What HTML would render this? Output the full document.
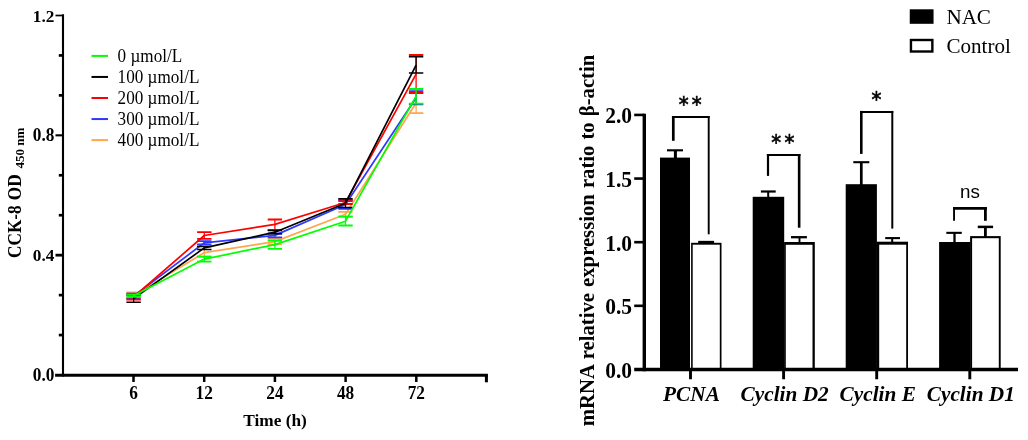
<!DOCTYPE html>
<html lang="en">
<head>
<meta charset="utf-8">
<title>CCK-8 and mRNA expression</title>
<style>
html,body{margin:0;padding:0;background:#fff;}
body{width:1028px;height:440px;overflow:hidden;}
svg{display:block;}
</style>
</head>
<body>
<svg width="1028" height="440" viewBox="0 0 1028 440">
<rect width="1028" height="440" fill="#fff"/>
<g stroke="#000" stroke-width="2.1" fill="none" stroke-linecap="butt">
<path d="M63.0 14.2 V376.5"/>
<path d="M55.1 375.3 H487.9" stroke-width="3"/>
<path d="M55.5 255.17 H63.0" stroke-width="2.8"/>
<path d="M55.5 135.33 H63.0" stroke-width="2.1"/>
<path d="M55.5 15.50 H63.0" stroke-width="1.7"/>
<path d="M58.8 335.06 H63.0" stroke-width="2.7"/>
<path d="M58.8 295.11 H63.0" stroke-width="2.7"/>
<path d="M58.8 215.22 H63.0" stroke-width="2.7"/>
<path d="M58.8 175.28 H63.0" stroke-width="2.7"/>
<path d="M58.8 95.39 H63.0" stroke-width="2.7"/>
<path d="M58.8 55.44 H63.0" stroke-width="2.7"/>
<path d="M133.50 375.0 V382.0" stroke-width="2.5"/>
<path d="M204.20 375.0 V382.0" stroke-width="2.5"/>
<path d="M274.90 375.0 V382.0" stroke-width="2.5"/>
<path d="M345.60 375.0 V382.0" stroke-width="2.5"/>
<path d="M416.30 375.0 V382.0" stroke-width="2.5"/>
<path d="M486.4 375.0 V382.3" stroke-width="3"/>
</g>
<g font-family='"Liberation Serif", "Times New Roman", serif' font-weight="bold" font-size="17.3" fill="#000">
<text transform="translate(54.4 381.44) scale(1 1.1)" text-anchor="end">0.0</text>
<text transform="translate(54.4 261.13) scale(1 1.02)" text-anchor="end">0.4</text>
<text transform="translate(54.4 141.42) scale(1 1.04)" text-anchor="end">0.8</text>
<text transform="translate(54.4 21.85) scale(1 1.0)" text-anchor="end">1.2</text>
<text transform="translate(133.50 399.0) scale(1 1.06)" text-anchor="middle">6</text>
<text transform="translate(204.20 399.0) scale(1 1.06)" text-anchor="middle">12</text>
<text transform="translate(274.90 399.0) scale(1 1.06)" text-anchor="middle">24</text>
<text transform="translate(345.60 399.0) scale(1 1.06)" text-anchor="middle">48</text>
<text transform="translate(416.30 399.0) scale(1 1.06)" text-anchor="middle">72</text>
<text x="275" y="426.1" text-anchor="middle">Time (h)</text>
<text transform="translate(21 258.1) rotate(-90) scale(1 1.08)" font-size="17.3" word-spacing="0.8">CCK-8 OD</text><text transform="translate(24.3 168.6) rotate(-90) scale(1.05 1)" font-size="12.4">450 nm</text>
</g>
<g font-family='"Liberation Serif", "Times New Roman", serif' font-size="17.15" fill="#000">
<path d="M91.5 55.90 H108" stroke="#00ff00" stroke-width="2.0"/>
<text transform="translate(117.6 61.90) scale(1 1.07)">0 µmol/L</text>
<path d="M91.5 76.95 H108" stroke="#000000" stroke-width="2.0"/>
<text transform="translate(117.6 82.95) scale(1 1.07)">100 µmol/L</text>
<path d="M91.5 98.00 H108" stroke="#ff0000" stroke-width="2.0"/>
<text transform="translate(117.6 104.00) scale(1 1.07)">200 µmol/L</text>
<path d="M91.5 119.05 H108" stroke="#3038ff" stroke-width="2.0"/>
<text transform="translate(117.6 125.05) scale(1 1.07)">300 µmol/L</text>
<path d="M91.5 140.10 H108" stroke="#ffa64d" stroke-width="2.0"/>
<text transform="translate(117.6 146.10) scale(1 1.07)">400 µmol/L</text>
</g>
<g stroke="#ffa64d" fill="none" stroke-linejoin="round">
<polyline points="133.6,295.5 204.3,252.6 274.9,241.6 345.5,214.2 416.1,103.0" stroke-width="1.7"/>
<path stroke-width="1.25" d="M133.6 292.50 V298.50"/>
<path stroke-width="1.8" d="M126.4 292.50 H140.8 M126.4 298.50 H140.8"/>
<path stroke-width="1.25" d="M204.3 246.20 V256.60"/>
<path stroke-width="1.8" d="M197.1 246.20 H211.5 M197.1 256.60 H211.5"/>
<path stroke-width="1.25" d="M274.9 238.90 V244.30"/>
<path stroke-width="1.8" d="M267.7 238.90 H282.1 M267.7 244.30 H282.1"/>
<path stroke-width="1.25" d="M345.5 211.80 V216.60"/>
<path stroke-width="1.8" d="M338.3 211.80 H352.7 M338.3 216.60 H352.7"/>
<path stroke-width="1.25" d="M416.1 93.00 V113.20"/>
<path stroke-width="1.8" d="M408.9 93.00 H423.3 M408.9 113.20 H423.3"/>
</g>
<g stroke="#3038ff" fill="none" stroke-linejoin="round">
<polyline points="133.6,296.1 204.3,242.8 274.9,235.4 345.5,204.5 416.1,97.7" stroke-width="1.7"/>
<path stroke-width="1.25" d="M133.6 293.70 V298.50"/>
<path stroke-width="1.8" d="M126.4 293.70 H140.8 M126.4 298.50 H140.8"/>
<path stroke-width="1.25" d="M204.3 241.10 V244.40"/>
<path stroke-width="1.8" d="M197.1 241.10 H211.5 M197.1 244.40 H211.5"/>
<path stroke-width="1.25" d="M274.9 233.50 V237.30"/>
<path stroke-width="1.8" d="M267.7 233.50 H282.1 M267.7 237.30 H282.1"/>
<path stroke-width="1.25" d="M345.5 200.00 V208.80"/>
<path stroke-width="1.8" d="M338.3 200.00 H352.7 M338.3 208.80 H352.7"/>
<path stroke-width="1.25" d="M416.1 91.20 V104.40"/>
<path stroke-width="1.8" d="M408.9 91.20 H423.3 M408.9 104.40 H423.3"/>
</g>
<g stroke="#ff0000" fill="none" stroke-linejoin="round">
<polyline points="133.6,297.0 204.3,235.5 274.9,224.4 345.5,202.5 416.1,74.2" stroke-width="1.7"/>
<path stroke-width="1.25" d="M133.6 294.50 V299.50"/>
<path stroke-width="1.8" d="M126.4 294.50 H140.8 M126.4 299.50 H140.8"/>
<path stroke-width="1.25" d="M204.3 232.10 V238.90"/>
<path stroke-width="1.8" d="M197.1 232.10 H211.5 M197.1 238.90 H211.5"/>
<path stroke-width="1.25" d="M274.9 219.50 V230.00"/>
<path stroke-width="1.8" d="M267.7 219.50 H282.1 M267.7 230.00 H282.1"/>
<path stroke-width="1.25" d="M345.5 201.20 V204.00"/>
<path stroke-width="1.8" d="M338.3 201.20 H352.7 M338.3 204.00 H352.7"/>
<path stroke-width="1.25" d="M416.1 55.00 V93.00"/>
<path stroke-width="1.8" d="M408.9 55.00 H423.3 M408.9 93.00 H423.3"/>
</g>
<g stroke="#000000" fill="none" stroke-linejoin="round">
<polyline points="133.6,298.6 204.3,247.9 274.9,232.2 345.5,203.2 416.1,65.2" stroke-width="1.7"/>
<path stroke-width="1.25" d="M133.6 294.85 V302.35"/>
<path stroke-width="1.5" d="M126.4 294.85 H140.8 M126.4 302.35 H140.8"/>
<path stroke-width="1.25" d="M204.3 246.40 V249.40"/>
<path stroke-width="1.5" d="M197.1 246.40 H211.5 M197.1 249.40 H211.5"/>
<path stroke-width="1.25" d="M274.9 230.60 V233.70"/>
<path stroke-width="1.5" d="M267.7 230.60 H282.1 M267.7 233.70 H282.1"/>
<path stroke-width="1.25" d="M345.5 198.70 V207.60"/>
<path stroke-width="1.5" d="M338.3 198.70 H352.7 M338.3 207.60 H352.7"/>
<path stroke-width="1.25" d="M416.1 56.80 V72.90"/>
<path stroke-width="1.5" d="M408.9 56.80 H423.3 M408.9 72.90 H423.3"/>
</g>
<g stroke="#00ff00" fill="none" stroke-linejoin="round">
<polyline points="133.6,295.8 204.3,259.1 274.9,244.6 345.5,221.2 416.1,96.2" stroke-width="1.7"/>
<path stroke-width="1.25" d="M133.6 294.55 V296.95"/>
<path stroke-width="1.8" d="M126.4 294.55 H140.8 M126.4 296.95 H140.8"/>
<path stroke-width="1.25" d="M204.3 256.70 V261.60"/>
<path stroke-width="1.8" d="M197.1 256.70 H211.5 M197.1 261.60 H211.5"/>
<path stroke-width="1.25" d="M274.9 240.60 V248.80"/>
<path stroke-width="1.8" d="M267.7 240.60 H282.1 M267.7 248.80 H282.1"/>
<path stroke-width="1.25" d="M345.5 216.70 V225.50"/>
<path stroke-width="1.8" d="M338.3 216.70 H352.7 M338.3 225.50 H352.7"/>
<path stroke-width="1.25" d="M416.1 89.00 V103.70"/>
<path stroke-width="1.8" d="M408.9 89.00 H423.3 M408.9 103.70 H423.3"/>
</g>
<path d="M675.4 150.3 V158.6" stroke="#000" stroke-width="3.0" fill="none"/>
<path d="M667.0 150.3 H683.0" stroke="#000" stroke-width="2.1" fill="none"/>
<rect x="660.0" y="157.6" width="30.00" height="211.85" fill="#000"/>
<path d="M706.2 242.0 V243.8" stroke="#000" stroke-width="2.2" fill="none"/>
<path d="M698.2 242.0 H714.1" stroke="#000" stroke-width="2.3" fill="none"/>
<rect x="691.1" y="242.8" width="30.40" height="126.65" fill="#000"/>
<rect x="692.70" y="244.70" width="27.10" height="124.75" fill="#fff"/>
<path d="M768.2 191.5 V197.8" stroke="#000" stroke-width="2.0" fill="none"/>
<path d="M760.9 191.5 H775.7" stroke="#000" stroke-width="2.2" fill="none"/>
<rect x="752.7" y="196.8" width="31.50" height="172.65" fill="#000"/>
<path d="M799.5 237.2 V243.0" stroke="#000" stroke-width="1.9" fill="none"/>
<path d="M791.0 237.2 H806.9" stroke="#000" stroke-width="2.3" fill="none"/>
<rect x="784.1" y="242.0" width="30.70" height="127.45" fill="#000"/>
<rect x="785.80" y="244.80" width="26.70" height="124.65" fill="#fff"/>
<path d="M861.3 162.2 V185.2" stroke="#000" stroke-width="2.7" fill="none"/>
<path d="M853.3 162.2 H869.3" stroke="#000" stroke-width="2.1" fill="none"/>
<rect x="845.7" y="184.2" width="31.20" height="185.25" fill="#000"/>
<path d="M892.2 238.1 V242.7" stroke="#000" stroke-width="2.0" fill="none"/>
<path d="M885.2 238.1 H900.0" stroke="#000" stroke-width="2.1" fill="none"/>
<rect x="876.4" y="241.7" width="31.60" height="127.75" fill="#000"/>
<rect x="879.20" y="244.70" width="27.00" height="124.75" fill="#fff"/>
<path d="M954.5 232.85 V243.0" stroke="#000" stroke-width="2.3" fill="none"/>
<path d="M946.3 232.85 H961.8" stroke="#000" stroke-width="2.1" fill="none"/>
<rect x="939.1" y="242.0" width="31.20" height="127.45" fill="#000"/>
<path d="M985.4 226.9 V237.1" stroke="#000" stroke-width="2.8" fill="none"/>
<path d="M977.75 226.9 H993.1" stroke="#000" stroke-width="2.5" fill="none"/>
<rect x="970.1" y="236.1" width="30.60" height="133.35" fill="#000"/>
<rect x="972.10" y="238.20" width="26.70" height="131.25" fill="#fff"/>
<g stroke="#000" stroke-width="3.4" fill="none">
<path d="M644.3 113.63 V371.15"/>
<path d="M634.2 369.45 H1018.0"/>
<path d="M634.2 305.82 H644.5" stroke-width="2.6"/>
<path d="M634.2 242.19 H644.5" stroke-width="2.6"/>
<path d="M634.2 178.56 H644.5" stroke-width="2.6"/>
<path d="M634.2 114.93 H644.5" stroke-width="2.6"/>
<path d="M690.50 369.45 V379.25" stroke-width="2.9"/>
<path d="M783.60 369.45 V379.25" stroke-width="2.9"/>
<path d="M876.70 369.45 V379.25" stroke-width="2.9"/>
<path d="M969.80 369.45 V379.25" stroke-width="2.9"/>
</g>
<g font-family='"Liberation Serif", "Times New Roman", serif' font-weight="bold" font-size="21.5" fill="#000">
<text transform="translate(632.1 377.85) scale(1 1.04)" text-anchor="end">0.0</text>
<text transform="translate(632.1 314.22) scale(1 1.04)" text-anchor="end">0.5</text>
<text transform="translate(632.1 250.59) scale(1 1.04)" text-anchor="end">1.0</text>
<text transform="translate(632.1 186.96) scale(1 1.04)" text-anchor="end">1.5</text>
<text transform="translate(632.1 122.83) scale(1 1.04)" text-anchor="end">2.0</text>
<text transform="translate(594.4 426.2) rotate(-90)" font-size="20.7" word-spacing="0.9">mRNA relative expression ratio to β-actin</text>
</g>
<g font-family='"Liberation Serif", "Times New Roman", serif' font-weight="bold" font-style="italic" font-size="20" fill="#000" text-anchor="middle">
<text transform="translate(691.50 400.9) scale(1.065 1)">PCNA</text>
<text transform="translate(784.60 400.9) scale(1.065 1)">Cyclin D2</text>
<text transform="translate(877.70 400.9) scale(1.065 1)">Cyclin E</text>
<text transform="translate(970.80 400.9) scale(1.065 1)">Cyclin D1</text>
</g>
<g stroke="#000" fill="none">
<path d="M673.3 140.8 V116.05" stroke-width="2.7"/>
<path d="M708.7 234.3 V116.05" stroke-width="1.9"/>
<path d="M671.95 117.05 H709.65" stroke-width="2.0"/>
<path d="M768.0 175.9 V154.00" stroke-width="2.2"/>
<path d="M799.15 227.7 V154.00" stroke-width="2.6"/>
<path d="M766.90 154.95 H800.45" stroke-width="1.9"/>
<path d="M861.3 153.9 V110.90" stroke-width="2.6"/>
<path d="M892.3 228.6 V110.90" stroke-width="2.0"/>
<path d="M860.00 111.9 H893.30" stroke-width="2.0"/>
<path d="M954.05 220.8 V207.05" stroke-width="1.9"/>
<path d="M985.4 220.8 V207.05" stroke-width="2.8"/>
<path d="M953.10 208.4 H986.80" stroke-width="2.7"/>
</g>
<text transform="translate(678.65 112.08) scale(0.9 1)" font-family='"DejaVu Sans", "Liberation Sans", sans-serif' font-size="22.0" letter-spacing="3.56" fill="#000" stroke="#000" stroke-width="0.65">**</text>
<text transform="translate(771.35 150.28) scale(0.9 1)" font-family='"DejaVu Sans", "Liberation Sans", sans-serif' font-size="22.0" letter-spacing="3.56" fill="#000" stroke="#000" stroke-width="0.65">**</text>
<text transform="translate(871.40 107.27) scale(0.9 1)" font-family='"DejaVu Sans", "Liberation Sans", sans-serif' font-size="22.0" letter-spacing="3.56" fill="#000" stroke="#000" stroke-width="0.65">*</text>
<text x="970" y="197.6" font-family='"Liberation Sans", Arial, sans-serif' font-size="18.8" fill="#000" text-anchor="middle">ns</text>
<rect x="909.75" y="9.3" width="23.8" height="14.5" fill="#000"/>
<rect x="910.95" y="40.0" width="21.4" height="11.5" fill="#fff" stroke="#000" stroke-width="2.4"/>
<g font-family='"Liberation Serif", "Times New Roman", serif' font-size="20" fill="#000">
<text transform="translate(946.4 23.7) scale(1.055 1)">NAC</text>
<text transform="translate(946.4 52.9) scale(1.055 1)">Control</text>
</g>
</svg>
</body>
</html>
